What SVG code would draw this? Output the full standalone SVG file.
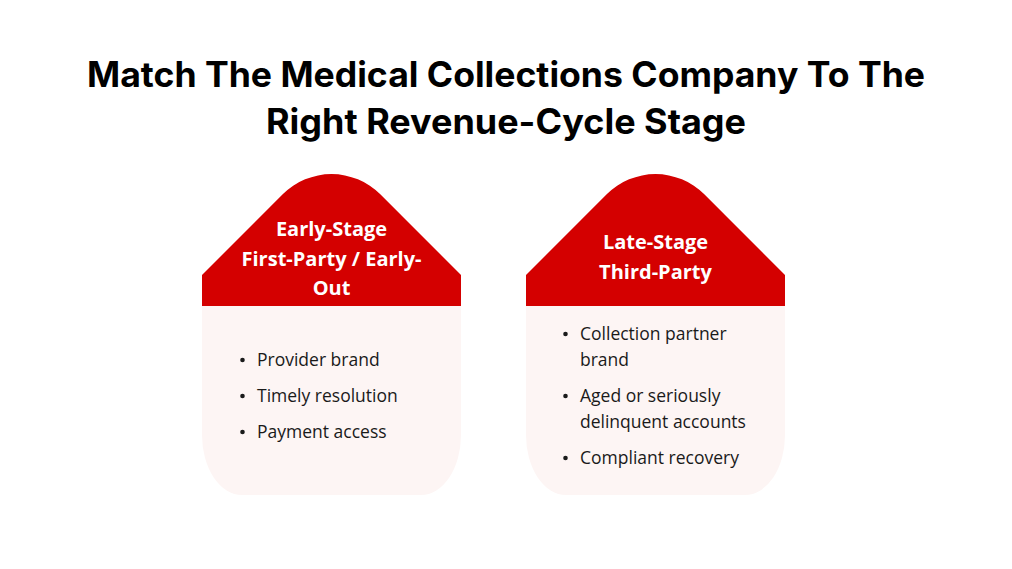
<svg xmlns="http://www.w3.org/2000/svg" width="1012" height="569" viewBox="0 0 1012 569">
<style>
.title{font-family:Inter,"Open Sans","Liberation Sans",sans-serif;font-weight:700;font-size:35px;fill:#000;text-anchor:middle}
.head{font-family:"Open Sans","Noto Sans","Liberation Sans",sans-serif;font-weight:700;font-size:20px;fill:#fff;text-anchor:middle}
.item{font-family:"Open Sans","Noto Sans","Liberation Sans",sans-serif;font-size:17.5px;fill:#1a1a1a}
.dot{fill:#1a1a1a}
.cap{fill:#d40000}
.body{fill:#fdf5f4}
</style>
<rect width="1012" height="569" fill="#fff"/>
<g id="title">
<text class="title" x="506" y="87" textLength="838" lengthAdjust="spacingAndGlyphs">Match The Medical Collections Company To The</text>
<text class="title" x="506" y="134" textLength="480" lengthAdjust="spacingAndGlyphs">Right Revenue-Cycle Stage</text>
</g>
<g id="early-stage">
<path class="body" d="M202,306 H461 V435 A40,60 0 0 1 421,495 H242 A40,60 0 0 1 202,435 Z"/>
<path class="cap" d="M202,306 V275 L282.7,194.3 A69,69 0 0 1 380.3,194.3 L461,275 V306 Z"/>
<text class="head" x="331.5" y="236">Early-Stage</text>
<text class="head" x="331.5" y="265.5">First-Party / Early-</text>
<text class="head" x="331.5" y="295">Out</text>
<circle class="dot" cx="242.5" cy="360" r="2.3"/><text class="item" x="257" y="366">Provider brand</text>
<circle class="dot" cx="242.5" cy="396" r="2.3"/><text class="item" x="257" y="402">Timely resolution</text>
<circle class="dot" cx="242.5" cy="432" r="2.3"/><text class="item" x="257" y="438">Payment access</text>
</g>
<g id="late-stage">
<path class="body" d="M526,306 H785 V435 A40,60 0 0 1 745,495 H566 A40,60 0 0 1 526,435 Z"/>
<path class="cap" d="M526,306 V275 L606.7,194.3 A69,69 0 0 1 704.3,194.3 L785,275 V306 Z"/>
<text class="head" x="655.5" y="249">Late-Stage</text>
<text class="head" x="655.5" y="278.5">Third-Party</text>
<circle class="dot" cx="565.5" cy="334" r="2.3"/><text class="item" x="580" y="340">Collection partner</text>
<text class="item" x="580" y="366">brand</text>
<circle class="dot" cx="565.5" cy="396" r="2.3"/><text class="item" x="580" y="402">Aged or seriously</text>
<text class="item" x="580" y="428">delinquent accounts</text>
<circle class="dot" cx="565.5" cy="458" r="2.3"/><text class="item" x="580" y="464">Compliant recovery</text>
</g>
<g id="connectors"/>
</svg>
